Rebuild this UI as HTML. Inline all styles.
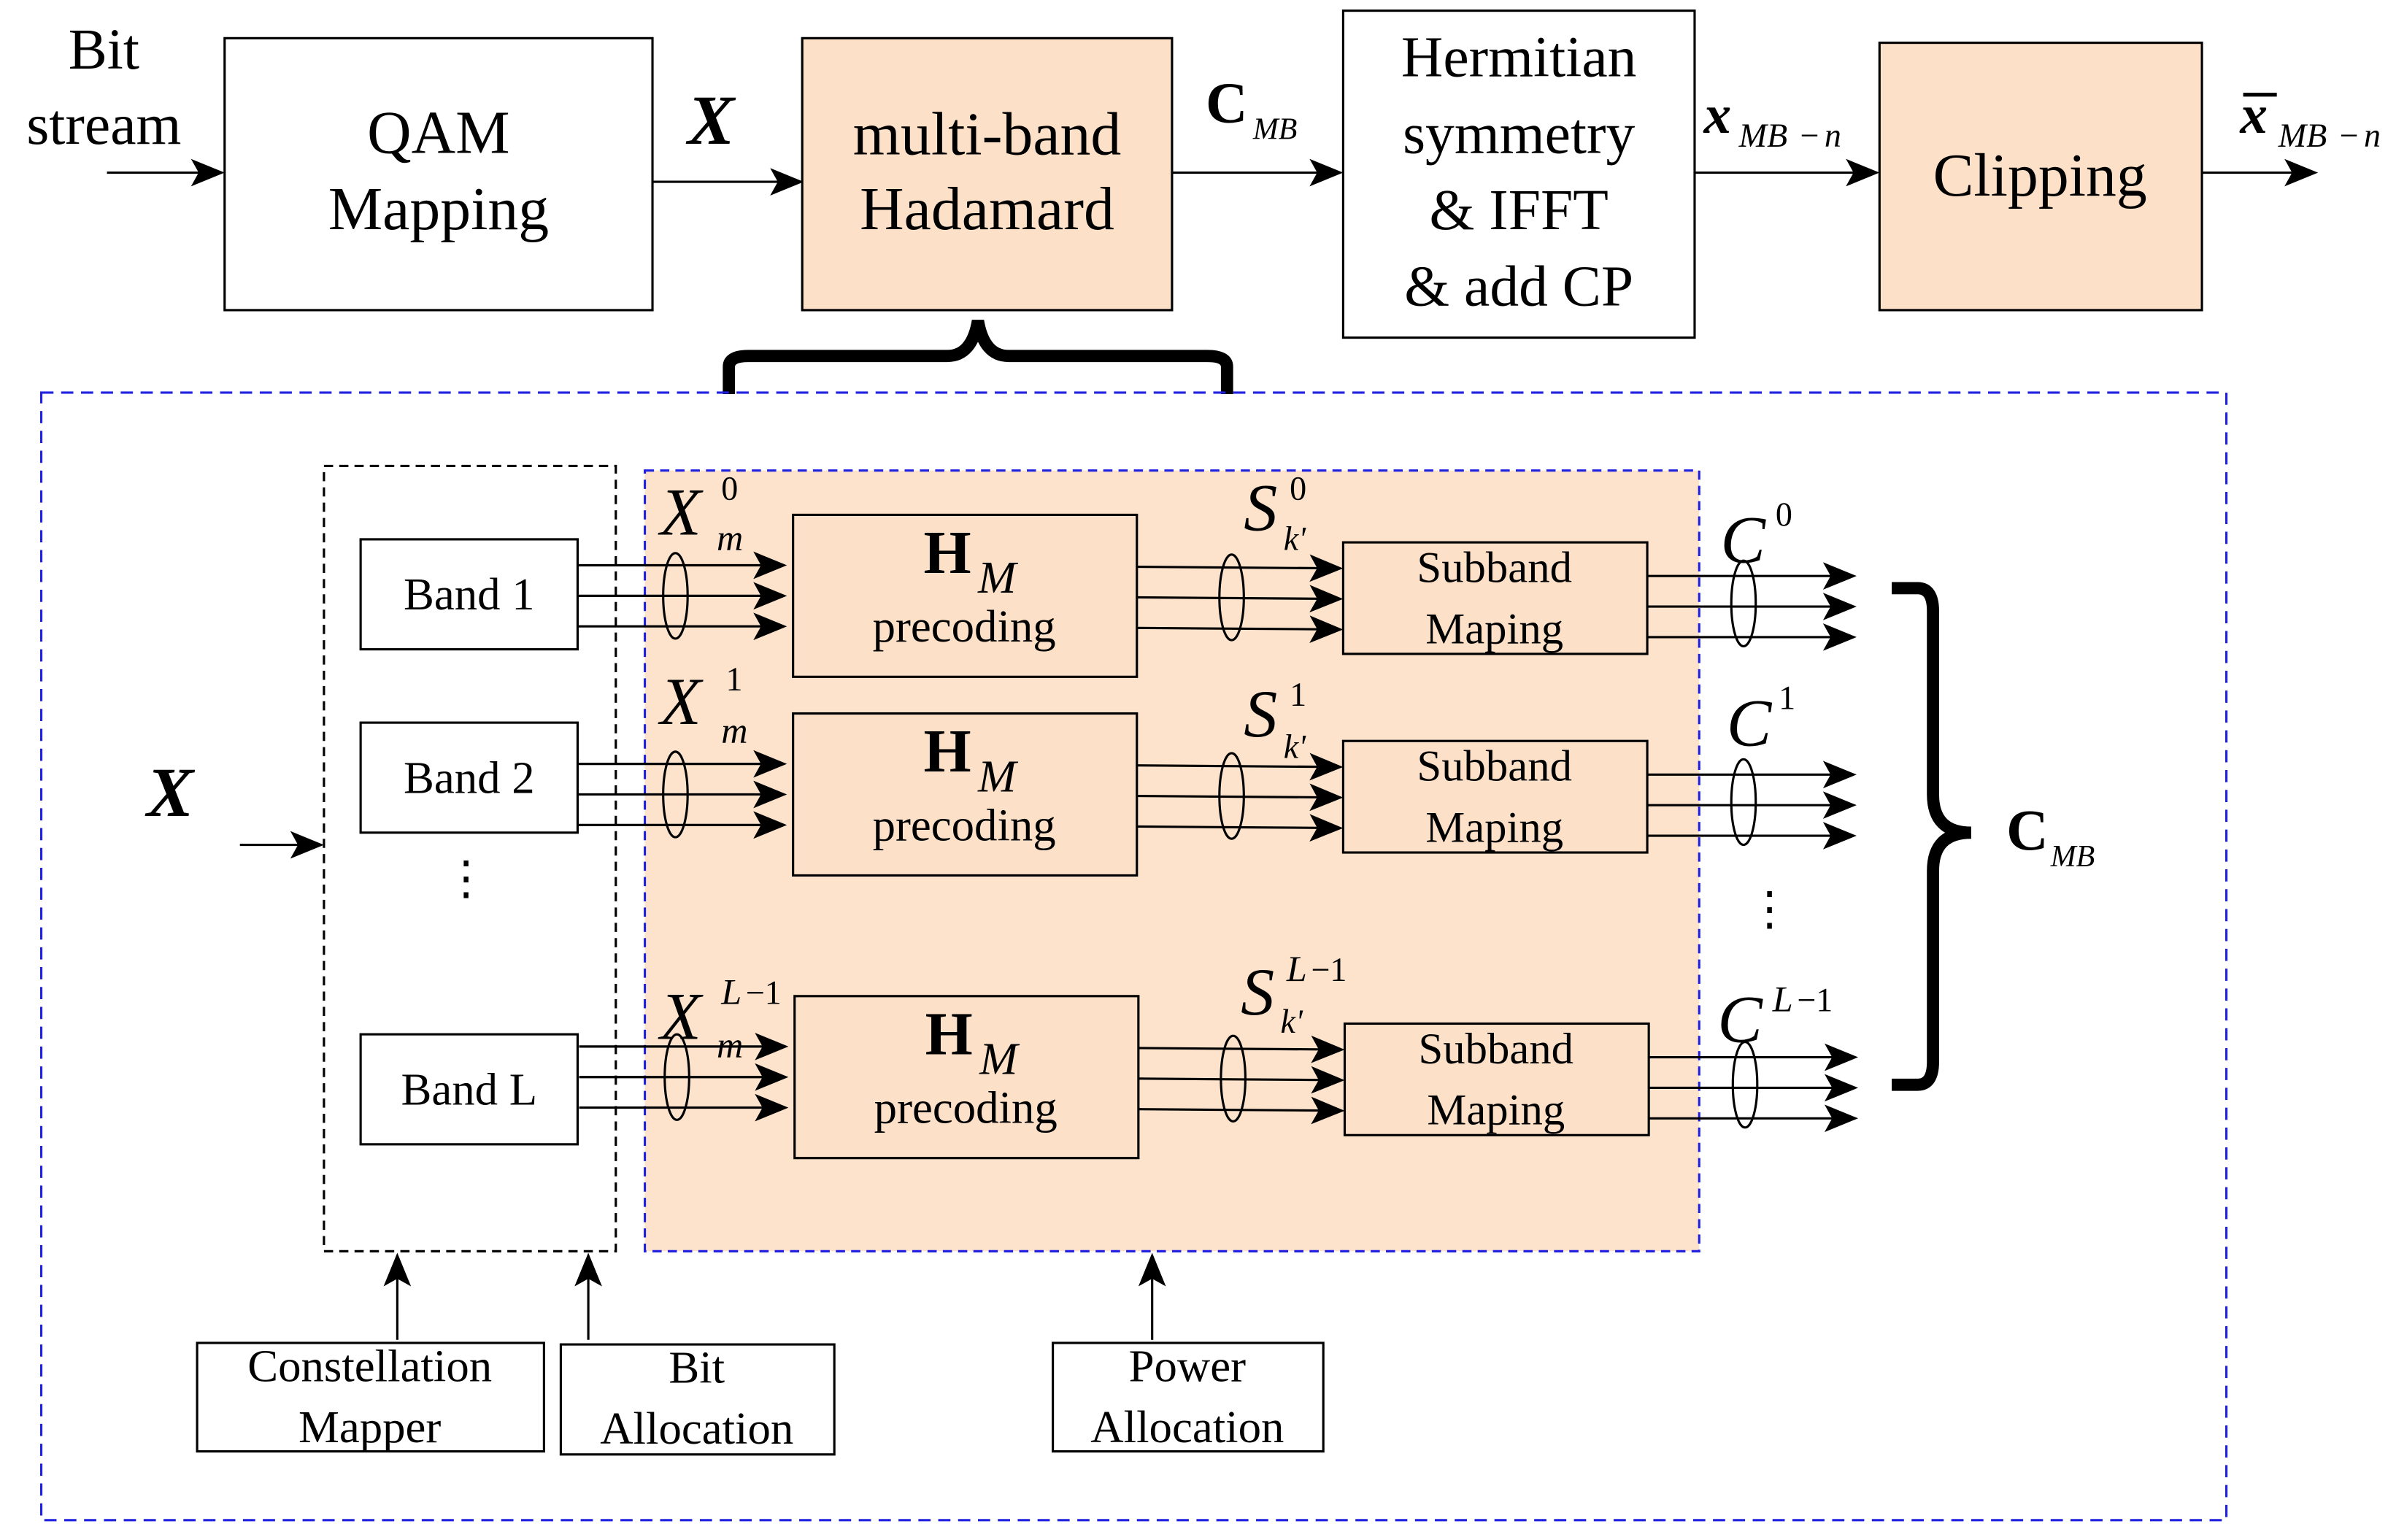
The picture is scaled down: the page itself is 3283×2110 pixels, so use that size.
<!DOCTYPE html>
<html><head><meta charset="utf-8"><style>
html,body{margin:0;padding:0;background:#fff;}
svg{display:block;}
text{font-family:"Liberation Serif",serif;fill:#000;}
</style></head><body>
<svg width="3283" height="2110" viewBox="0 0 1568 1008" preserveAspectRatio="none" xmlns="http://www.w3.org/2000/svg">
<defs>
<marker id="a" markerWidth="10" markerHeight="10" refX="9" refY="5" orient="auto" markerUnits="userSpaceOnUse" viewBox="0 0 10 10"><path d="M0,0 L10,5 L0,10 Z" fill="#000"/></marker>
<marker id="b" markerWidth="22" markerHeight="18" refX="20" refY="9" orient="auto" markerUnits="userSpaceOnUse" viewBox="0 0 22 18"><path d="M0,0 L22,9 L0,18 L5,9 Z" fill="#000"/></marker>
</defs>
<g stroke="#000" stroke-width="1.5" fill="none">
<!-- top chain -->
<line x1="70" y1="113" x2="145" y2="113" marker-end="url(#b)"/>
<rect x="147" y="25" width="280" height="178" fill="#fff"/>
<line x1="427" y1="119" x2="524" y2="119" marker-end="url(#b)"/>
<rect x="525" y="25" width="242" height="178" fill="#fde0c8"/>
<line x1="767" y1="113" x2="877" y2="113" marker-end="url(#b)"/>
<rect x="879" y="7" width="230" height="214" fill="#fff"/>
<line x1="1109" y1="113" x2="1228" y2="113" marker-end="url(#b)"/>
<rect x="1230" y="28" width="211" height="175" fill="#fde0c8"/>
<line x1="1441" y1="113" x2="1515" y2="113" marker-end="url(#b)"/>
<!-- brace -->
<path d="M477,258 L477,240 Q477,233 490,233 L620,233 Q636,233 640,210 Q644,233 660,233 L790,233 Q803,233 803,240 L803,258" stroke-width="8"/>
<!-- containers -->
<rect x="422" y="308" width="690" height="511" fill="#fde3cc" stroke="#2020e0" stroke-dasharray="6,4"/>
<rect x="27" y="257" width="1430" height="738" stroke="#2020e0" stroke-dasharray="8,5"/>
<rect x="212" y="305" width="191" height="514" stroke-dasharray="6,4"/>
<!-- bands -->
<rect x="236" y="353" width="142" height="72" fill="#fff"/>
<rect x="236" y="473" width="142" height="72" fill="#fff"/>
<rect x="236" y="677" width="142" height="72" fill="#fff"/>
<line x1="157" y1="553" x2="210" y2="553" marker-end="url(#b)"/>
<!-- bottom -->
<rect x="129" y="879" width="227" height="71" fill="#fff"/>
<rect x="367" y="880" width="179" height="72" fill="#fff"/>
<rect x="689" y="879" width="177" height="71" fill="#fff"/>
<line x1="260" y1="877" x2="260" y2="822" marker-end="url(#b)"/>
<line x1="385" y1="877" x2="385" y2="822" marker-end="url(#b)"/>
<line x1="754" y1="877" x2="754" y2="822" marker-end="url(#b)"/>
<!-- right brace -->
<path d="M1238,385 L1255,385 Q1265,385 1265,400 L1265,520 Q1265,545 1290,545 Q1265,545 1265,570 L1265,695 Q1265,710 1255,710 L1238,710" stroke-width="8"/>
</g>
<g id="row0" stroke="#000" stroke-width="1.5" fill="none">
<line x1="378" y1="370" x2="513" y2="370" marker-end="url(#b)"/>
<line x1="378" y1="390" x2="513" y2="390" marker-end="url(#b)"/>
<line x1="378" y1="410" x2="513" y2="410" marker-end="url(#b)"/>
<ellipse cx="442" cy="390" rx="8" ry="28"/>
<rect x="519" y="337" width="225" height="106" fill="#fde0c8"/>
<line x1="744" y1="371" x2="877" y2="372" marker-end="url(#b)"/>
<line x1="744" y1="391" x2="877" y2="392" marker-end="url(#b)"/>
<line x1="744" y1="411" x2="877" y2="412" marker-end="url(#b)"/>
<ellipse cx="806" cy="391" rx="8" ry="28"/>
<rect x="879" y="355" width="199" height="73" fill="#fde0c8"/>
<line x1="1078" y1="377" x2="1213" y2="377" marker-end="url(#b)"/>
<line x1="1078" y1="397" x2="1213" y2="397" marker-end="url(#b)"/>
<line x1="1078" y1="417" x2="1213" y2="417" marker-end="url(#b)"/>
<ellipse cx="1141" cy="395" rx="8" ry="28"/>
<g stroke="none" fill="#000">
<text x="620" y="375" font-size="40" font-weight="bold" text-anchor="middle">H</text>
<text x="640" y="388" font-size="30" font-style="italic">M</text>
<text x="631" y="420" font-size="30" text-anchor="middle">precoding</text>
<text x="978" y="381" font-size="29" text-anchor="middle">Subband</text>
<text x="978" y="421" font-size="29" text-anchor="middle">Maping</text>
</g>
</g>
<use href="#row0" transform="translate(0,130)"/>
<use href="#row0" transform="translate(1,315)"/>
<g font-size="30">
<text x="307" y="399" text-anchor="middle">Band 1</text>
<text x="307" y="519" text-anchor="middle">Band 2</text>
<text x="307" y="723" text-anchor="middle">Band L</text>
<text x="305" y="585" text-anchor="middle" font-size="30">⋮</text>
<text x="1158" y="605" text-anchor="middle" font-size="30">⋮</text>
<text x="242" y="904" text-anchor="middle">Constellation</text>
<text x="242" y="944" text-anchor="middle">Mapper</text>
<text x="456" y="905" text-anchor="middle">Bit</text>
<text x="456" y="945" text-anchor="middle">Allocation</text>
<text x="777" y="904" text-anchor="middle">Power</text>
<text x="777" y="944" text-anchor="middle">Allocation</text>
</g>
<!-- labels -->
<g font-style="italic">
<text x="432" y="350" font-size="44">X</text><text x="472" y="327" font-size="22" font-style="normal">0</text><text x="469" y="360" font-size="24">m</text>
<text x="432" y="474" font-size="44">X</text><text x="475" y="452" font-size="22" font-style="normal">1</text><text x="472" y="486" font-size="24">m</text>
<text x="432" y="680" font-size="44">X</text><text x="472" y="657" font-size="24">L</text><text x="488" y="657" font-size="22" font-style="normal">−1</text><text x="469" y="692" font-size="24">m</text>
<text x="814" y="347" font-size="44">S</text><text x="844" y="327" font-size="22" font-style="normal">0</text><text x="840" y="360" font-size="22">k'</text>
<text x="814" y="482" font-size="44">S</text><text x="844" y="462" font-size="22" font-style="normal">1</text><text x="840" y="496" font-size="22">k'</text>
<text x="812" y="664" font-size="44">S</text><text x="842" y="642" font-size="24">L</text><text x="858" y="642" font-size="22" font-style="normal">−1</text><text x="838" y="676" font-size="22">k'</text>
<text x="1126" y="368" font-size="44">C</text><text x="1162" y="344" font-size="22" font-style="normal">0</text>
<text x="1130" y="488" font-size="44">C</text><text x="1164" y="464" font-size="22" font-style="normal">1</text>
<text x="1124" y="682" font-size="44">C</text><text x="1160" y="662" font-size="24">L</text><text x="1176" y="662" font-size="22" font-style="normal">−1</text>
<text x="96" y="534" font-size="46" font-weight="bold">X</text>
<text x="450" y="94" font-size="46" font-weight="bold">X</text>
<text x="1115" y="87" font-size="36" font-weight="bold">x</text><text x="1138" y="96" font-size="22">MB</text><text x="1178" y="96" font-size="22" font-style="normal">−</text><text x="1194" y="96" font-size="22">n</text>
<text x="1466" y="87" font-size="36" font-weight="bold">x</text><text x="1491" y="96" font-size="22">MB</text><text x="1531" y="96" font-size="22" font-style="normal">−</text><text x="1547" y="96" font-size="22">n</text>
<text x="820" y="91" font-size="20">MB</text>
<text x="1342" y="567" font-size="20">MB</text>
</g>
<line x1="1468" y1="62" x2="1490" y2="62" stroke="#000" stroke-width="2.5"/>
<text x="789" y="80" font-size="38" font-weight="bold">C</text>
<text x="1313" y="556" font-size="38" font-weight="bold">C</text>
<g font-size="38" text-anchor="middle">
<text x="68" y="45">Bit</text>
<text x="68" y="94">stream</text>
<text x="287" y="100" font-size="40">QAM</text>
<text x="287" y="150" font-size="40">Mapping</text>
<text x="646" y="101" font-size="40">multi-band</text>
<text x="646" y="150" font-size="40">Hadamard</text>
<text x="994" y="50">Hermitian</text>
<text x="994" y="100">symmetry</text>
<text x="994" y="150">&amp; IFFT</text>
<text x="994" y="200">&amp; add CP</text>
<text x="1335" y="128" font-size="40">Clipping</text>
</g>
</svg>
</body></html>
